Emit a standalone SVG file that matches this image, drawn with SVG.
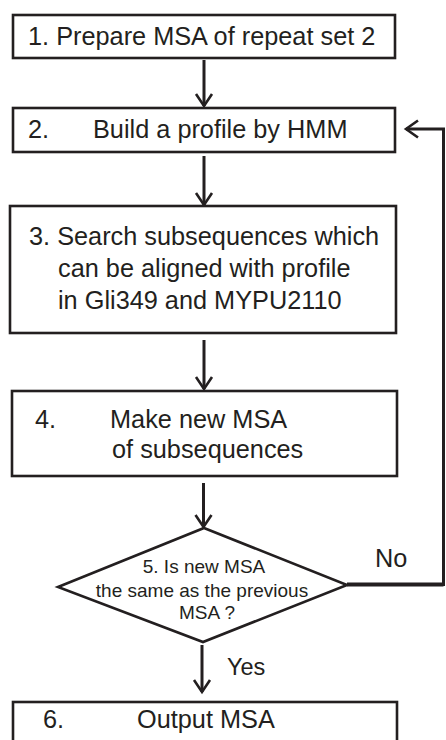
<svg xmlns="http://www.w3.org/2000/svg" width="446" height="740" viewBox="0 0 446 740">
  <style>
    .box { fill: #ffffff; stroke: #231f20; stroke-width: 2.6; }
    .lbl { font-family: "Liberation Sans", Arial, sans-serif; font-size: 25.3px; fill: #231f20; }
    .small { font-size: 19px; }
    .wire { fill: none; stroke: #231f20; stroke-width: 3; }
    .head { fill: none; stroke: #231f20; stroke-width: 2.6; stroke-linejoin: miter; }
  </style>
  <rect width="446" height="740" fill="#ffffff"/>

  <!-- connectors -->
  <g id="connectors">
    <line class="wire" x1="204" y1="60" x2="204" y2="106"/>
    <polyline class="head" points="196,94 204,106 212,94"/>

    <line class="wire" x1="204" y1="156" x2="204" y2="205"/>
    <polyline class="head" points="196,193 204,205 212,193"/>

    <line class="wire" x1="204" y1="340" x2="204" y2="389"/>
    <polyline class="head" points="196,377 204,389 212,377"/>

    <line class="wire" x1="203.5" y1="483" x2="203.5" y2="527"/>
    <polyline class="head" points="195.5,515 203.5,527 211.5,515"/>

    <line class="wire" x1="202" y1="645" x2="202" y2="692"/>
    <polyline class="head" points="194,680 202,692 210,680"/>

    <!-- "No" branch loops back to step 2 -->
    <polyline fill="none" stroke="#231f20" stroke-width="4" points="347,584.5 443.5,584.5"/>
    <polyline class="wire" points="443.5,586 443.5,129 406,129"/>
    <polyline class="head" points="418,120.5 406,129 418,137.5"/>

    <text class="lbl" x="375" y="567">No</text>
    <text class="lbl" x="227" y="675" style="font-size:23.5px">Yes</text>
  </g>

  <g id="step1">
    <rect class="box" x="13" y="15" width="382" height="43"/>
    <text class="lbl" x="28" y="45">1. Prepare MSA of repeat set 2</text>
  </g>

  <g id="step2">
    <rect class="box" x="13" y="108" width="382" height="44"/>
    <text class="lbl" x="28" y="138">2.</text>
    <text class="lbl" x="93" y="138">Build a profile by HMM</text>
  </g>

  <g id="step3">
    <rect class="box" x="10" y="206" width="386" height="127"/>
    <text class="lbl" x="29" y="245">3. Search subsequences which</text>
    <text class="lbl" x="58" y="277">can be aligned with profile</text>
    <text class="lbl" x="58" y="309">in Gli349 and MYPU2110</text>
  </g>

  <g id="step4">
    <rect class="box" x="12" y="391" width="385" height="85"/>
    <text class="lbl" x="35" y="428">4.</text>
    <text class="lbl" x="110" y="428">Make new MSA</text>
    <text class="lbl" x="112" y="458">of subsequences</text>
  </g>

  <g id="step5">
    <polygon class="box" points="204,528 347,585 203,642 58,587"/>
    <text class="lbl small" x="204" y="573" text-anchor="middle">5. Is new MSA</text>
    <text class="lbl small" x="202" y="597" text-anchor="middle">the same as the previous</text>
    <text class="lbl small" x="207" y="619" text-anchor="middle">MSA ?</text>
  </g>

  <g id="step6">
    <rect class="box" x="13" y="702" width="384" height="48"/>
    <text class="lbl" x="43" y="728">6.</text>
    <text class="lbl" x="137" y="728">Output MSA</text>
  </g>
</svg>
